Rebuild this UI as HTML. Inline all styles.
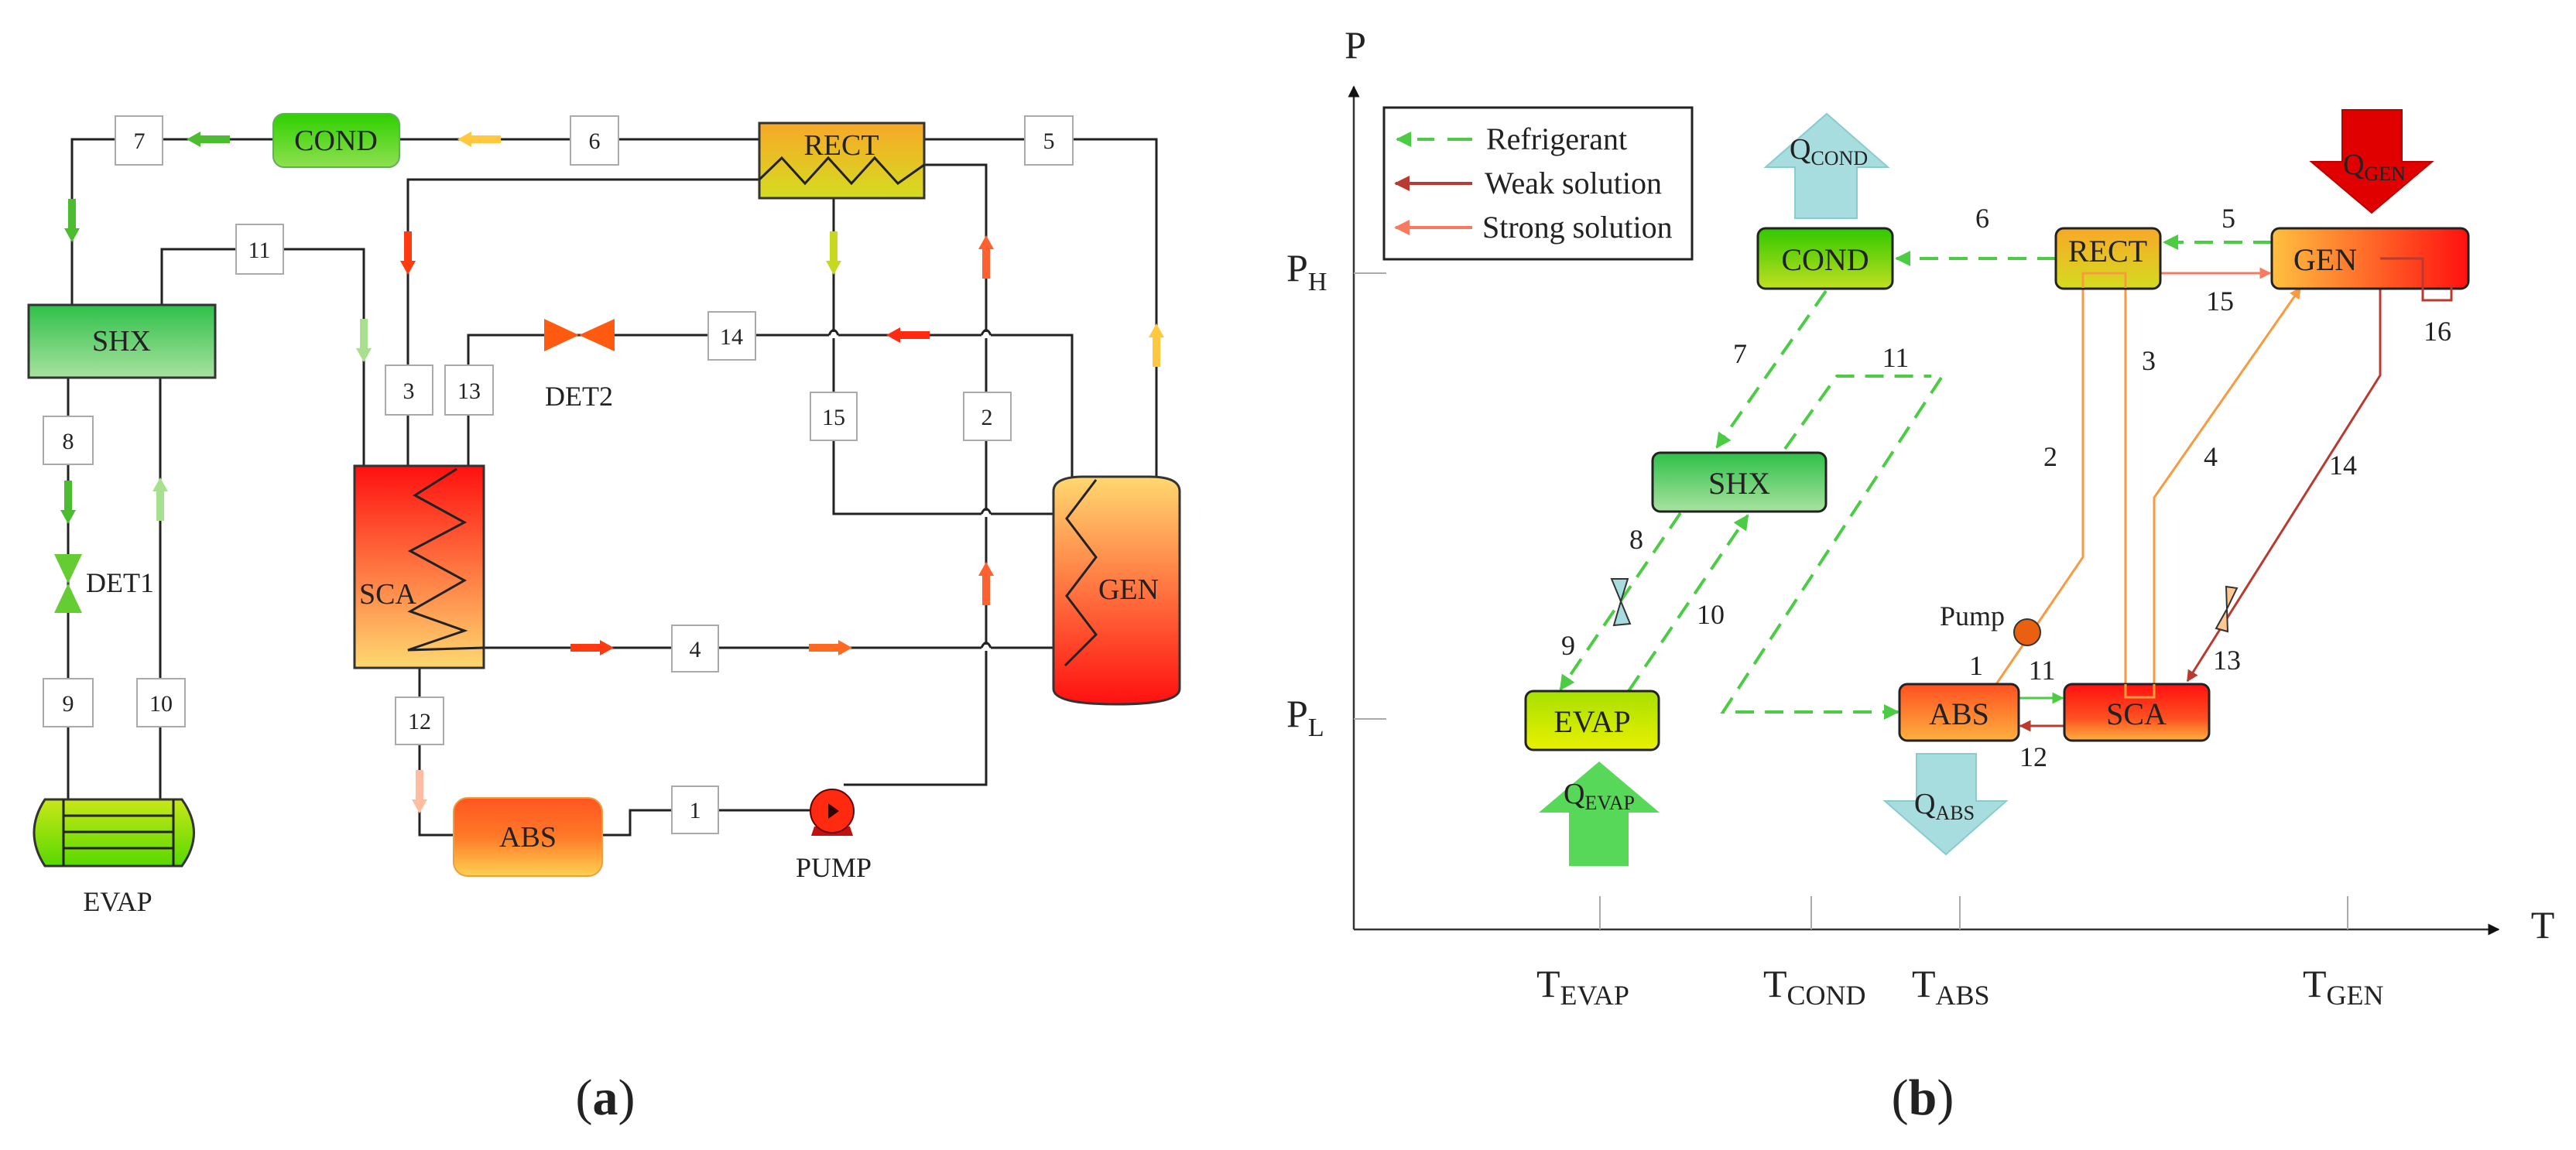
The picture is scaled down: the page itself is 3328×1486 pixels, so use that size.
<!DOCTYPE html>
<html><head><meta charset="utf-8"><style>
html,body{margin:0;padding:0;background:#fff}
svg{display:block}
text{font-family:"Liberation Serif",serif;fill:#222}
</style></head><body>
<svg width="3328" height="1486" viewBox="0 0 3328 1486" xmlns="http://www.w3.org/2000/svg">
<defs>
<linearGradient id="gCond" x1="0" y1="0" x2="0" y2="1"><stop offset="0" stop-color="#2fd000"/><stop offset="1" stop-color="#8fe050"/></linearGradient>
<linearGradient id="gRect" x1="0" y1="0" x2="0" y2="1"><stop offset="0" stop-color="#f8a828"/><stop offset="1" stop-color="#d4dc20"/></linearGradient>
<linearGradient id="gShx" x1="0" y1="0" x2="0" y2="1"><stop offset="0" stop-color="#2ec048"/><stop offset="1" stop-color="#a8e2a0"/></linearGradient>
<linearGradient id="gSca" x1="0" y1="0" x2="0" y2="1"><stop offset="0" stop-color="#ff1010"/><stop offset="1" stop-color="#ffd870"/></linearGradient>
<linearGradient id="gGen" x1="0" y1="0" x2="0" y2="1"><stop offset="0" stop-color="#ffd870"/><stop offset="1" stop-color="#ff1010"/></linearGradient>
<linearGradient id="gAbs" x1="0" y1="0" x2="0" y2="1"><stop offset="0" stop-color="#ff5520"/><stop offset="0.5" stop-color="#ff7a28"/><stop offset="1" stop-color="#ffd050"/></linearGradient>
<linearGradient id="gEvap" x1="0" y1="0" x2="0" y2="1"><stop offset="0" stop-color="#c8e818"/><stop offset="1" stop-color="#58d800"/></linearGradient>
<linearGradient id="gCond2" x1="0" y1="0" x2="0" y2="1"><stop offset="0" stop-color="#30c800"/><stop offset="1" stop-color="#c0e020"/></linearGradient>
<linearGradient id="gGen2" x1="0" y1="0" x2="1" y2="0"><stop offset="0" stop-color="#ffc040"/><stop offset="1" stop-color="#ff1010"/></linearGradient>
<linearGradient id="gEvap2" x1="0" y1="0" x2="0" y2="1"><stop offset="0" stop-color="#a8e000"/><stop offset="1" stop-color="#e8f000"/></linearGradient>
<linearGradient id="gSca2" x1="0" y1="0" x2="0" y2="1"><stop offset="0" stop-color="#ff1010"/><stop offset="0.6" stop-color="#ff5020"/><stop offset="1" stop-color="#ffb040"/></linearGradient>
<linearGradient id="gAbs2" x1="0" y1="0" x2="0" y2="1"><stop offset="0" stop-color="#ff5020"/><stop offset="1" stop-color="#ffb040"/></linearGradient>
<marker id="mG" viewBox="0 0 10 10" refX="9" refY="5" markerWidth="5" markerHeight="5" orient="auto"><path d="M0,0L10,5L0,10z" fill="#4ccc44"/></marker>
<marker id="mS" viewBox="0 0 10 10" refX="9" refY="5" markerWidth="5" markerHeight="5" orient="auto"><path d="M0,0L10,5L0,10z" fill="#f87a60"/></marker>
<marker id="mO" viewBox="0 0 10 10" refX="9" refY="5" markerWidth="5" markerHeight="5" orient="auto"><path d="M0,0L10,5L0,10z" fill="#f89a40"/></marker>
<marker id="mW" viewBox="0 0 10 10" refX="9" refY="5" markerWidth="5" markerHeight="5" orient="auto"><path d="M0,0L10,5L0,10z" fill="#b83a30"/></marker>
<marker id="mK" viewBox="0 0 10 10" refX="9" refY="5" markerWidth="6" markerHeight="6" orient="auto"><path d="M0,0L10,5L0,10z" fill="#111"/></marker>
<path id="arr" d="M-5,0 L5,0 L5,38 L10,38 L0,56 L-10,38 L-5,38 Z"/>
</defs>

<!-- ================= PANEL (a) ================= -->
<g stroke="#222" stroke-width="3" fill="none">
<path d="M93,441 V180 H353"/>
<path d="M516,180 H981"/>
<path d="M1194,180 H1494 V616"/>
<path d="M1194,213 H1274 V1014 H1090"/>
<path d="M981,232 H527 V602"/>
<path d="M209,394 V322 H470 V602"/>
<path d="M605,602 V433 H1385 V630"/>
<path d="M1077,256 V664 H1361"/>
<path d="M625,837 H1361"/>
<path d="M542,863 V1079 H586"/>
<path d="M778,1079 H814 V1047 H1046"/>
<path d="M88,488 V1033"/>
<path d="M207,488 V1033"/>
</g>
<g stroke="#fff" stroke-width="8"><path d="M1071,433H1083M1268,433H1280M1268,664H1280M1268,837H1280"/></g>
<g stroke="#222" stroke-width="3" fill="none">
<path d="M1071,433 Q1077,420 1083,433"/><path d="M1268,433 Q1274,420 1280,433"/>
<path d="M1268,664 Q1274,651 1280,664"/><path d="M1268,837 Q1274,824 1280,837"/>
</g>
<rect x="353" y="147" width="163" height="69" rx="14" fill="url(#gCond)" stroke="#6a6" stroke-width="2"/>
<text x="434" y="194" font-size="38" text-anchor="middle">COND</text>
<rect x="981" y="159" width="213" height="97" fill="url(#gRect)" stroke="#333" stroke-width="3"/>
<path d="M981,232 L1010,204 L1040,237 L1070,204 L1100,237 L1130,204 L1160,237 L1194,213" fill="none" stroke="#222" stroke-width="3"/>
<text x="1087" y="200" font-size="38" text-anchor="middle">RECT</text>
<rect x="37" y="394" width="241" height="94" fill="url(#gShx)" stroke="#333" stroke-width="3"/>
<text x="157" y="453" font-size="38" text-anchor="middle">SHX</text>
<rect x="458" y="602" width="167" height="261" fill="url(#gSca)" stroke="#333" stroke-width="3"/>
<path d="M590,606 L536,640 L600,675 L530,712 L600,750 L530,790 L600,815 L527,840 L625,837" fill="none" stroke="#222" stroke-width="3"/>
<text x="501" y="780" font-size="38" text-anchor="middle">SCA</text>
<path d="M1361,635 Q1361,616 1400,616 L1485,616 Q1524,616 1524,635 L1524,890 Q1524,910 1442,910 Q1361,910 1361,890 Z" fill="url(#gGen)" stroke="#333" stroke-width="3"/>
<path d="M1416,620 L1378,670 L1416,720 L1378,770 L1416,820 L1376,860" fill="none" stroke="#222" stroke-width="3"/>
<text x="1458" y="774" font-size="38" text-anchor="middle">GEN</text>
<rect x="586" y="1031" width="192" height="101" rx="18" fill="url(#gAbs)" stroke="#e8a040" stroke-width="2"/>
<text x="682" y="1094" font-size="38" text-anchor="middle">ABS</text>
<path d="M58,1033 L235,1033 Q266,1076 235,1119 L58,1119 Q30,1076 58,1033 Z" fill="url(#gEvap)" stroke="#333" stroke-width="3"/>
<g stroke="#222" stroke-width="3"><path d="M82,1033V1119M224,1033V1119M82,1054H224M82,1075H224M82,1096H224"/></g>
<text x="152" y="1177" font-size="36" text-anchor="middle">EVAP</text>
<path d="M70,716 L106,716 L88,754 Z M70,792 L106,792 L88,754 Z" fill="#66cc33"/>
<text x="111" y="765" font-size="36">DET1</text>
<path d="M703,412 L703,454 L748,433 Z M794,412 L794,454 L748,433 Z" fill="#ff5a10"/>
<text x="748" y="524" font-size="36" text-anchor="middle">DET2</text>
<path d="M1052,1068 L1098,1068 L1102,1080 L1048,1080 Z" fill="#c01010"/>
<circle cx="1075" cy="1048" r="28" fill="#ff2a10" stroke="#600" stroke-width="2"/>
<path d="M1070,1038 L1084,1048 L1070,1058 Z" fill="#300"/>
<text x="1077" y="1133" font-size="36" text-anchor="middle">PUMP</text>
<g fill="#fff" stroke="#aaa" stroke-width="2">
<rect x="149" y="150" width="61" height="63"/><rect x="737" y="150" width="62" height="63"/><rect x="1324" y="150" width="62" height="63"/>
<rect x="305" y="290" width="61" height="64"/>
<rect x="498" y="472" width="61" height="64"/><rect x="575" y="472" width="62" height="64"/>
<rect x="915" y="403" width="61" height="62"/>
<rect x="1047" y="507" width="60" height="62"/><rect x="1245" y="507" width="61" height="62"/>
<rect x="56" y="538" width="64" height="62"/>
<rect x="868" y="808" width="60" height="60"/>
<rect x="56" y="877" width="64" height="62"/><rect x="177" y="877" width="62" height="62"/>
<rect x="511" y="901" width="62" height="61"/>
<rect x="868" y="1016" width="60" height="61"/>
</g>
<g font-size="30" text-anchor="middle">
<text x="180" y="192">7</text><text x="768" y="192">6</text><text x="1355" y="192">5</text>
<text x="335" y="333">11</text><text x="528" y="515">3</text><text x="606" y="515">13</text>
<text x="945" y="445">14</text><text x="1077" y="549">15</text><text x="1275" y="549">2</text>
<text x="88" y="580">8</text><text x="898" y="849">4</text><text x="88" y="919">9</text><text x="208" y="919">10</text>
<text x="542" y="942">12</text><text x="898" y="1057">1</text>
</g>
<use href="#arr" transform="translate(93,257)" fill="#4cbc30"/>
<use href="#arr" transform="translate(297,180) rotate(90)" fill="#4cbc30"/>
<use href="#arr" transform="translate(647,180) rotate(90)" fill="#ffc840"/>
<use href="#arr" transform="translate(527,299)" fill="#ff3a10"/>
<use href="#arr" transform="translate(470,412)" fill="#a8e090"/>
<use href="#arr" transform="translate(1077,299)" fill="#c8d820"/>
<use href="#arr" transform="translate(1274,360) rotate(180)" fill="#ff6030"/>
<use href="#arr" transform="translate(1494,474) rotate(180)" fill="#ffc840"/>
<use href="#arr" transform="translate(1201,433) rotate(90)" fill="#ff2a10"/>
<use href="#arr" transform="translate(88,621)" fill="#4cbc30"/>
<use href="#arr" transform="translate(207,673) rotate(180)" fill="#a8e090"/>
<use href="#arr" transform="translate(737,837) rotate(-90)" fill="#ff3a10"/>
<use href="#arr" transform="translate(1045,837) rotate(-90)" fill="#ff6a20"/>
<use href="#arr" transform="translate(1274,782) rotate(180)" fill="#ff6030"/>
<use href="#arr" transform="translate(542,995)" fill="#ffbca0"/>
<text x="782" y="1440" font-size="66" text-anchor="middle" fill="#111">(<tspan font-weight="bold">a</tspan>)</text>

<!-- ================= PANEL (b) ================= -->
<g stroke="#333" stroke-width="2.5" fill="none">
<path d="M1749,1201 V112" marker-end="url(#mK)"/>
<path d="M1749,1201 H3228" marker-end="url(#mK)"/>
</g>
<g stroke="#aaa" stroke-width="2"><path d="M1749,353H1791M1749,929H1791M2067,1158V1201M2340,1158V1201M2532,1158V1201M3033,1158V1201"/></g>
<text x="1751" y="75" font-size="50" text-anchor="middle">P</text>
<text x="3285" y="1212" font-size="50" text-anchor="middle">T</text>
<text x="1662" y="363" font-size="50">P<tspan font-size="34" dy="12">H</tspan></text>
<text x="1662" y="939" font-size="50">P<tspan font-size="34" dy="12">L</tspan></text>
<g font-size="50"><text x="1985" y="1288">T<tspan font-size="36" dy="10">EVAP</tspan></text>
<text x="2278" y="1288">T<tspan font-size="36" dy="10">COND</tspan></text>
<text x="2470" y="1288">T<tspan font-size="36" dy="10">ABS</tspan></text>
<text x="2975" y="1288">T<tspan font-size="36" dy="10">GEN</tspan></text></g>
<rect x="1788" y="139" width="398" height="196" fill="#fff" stroke="#222" stroke-width="3"/>
<path d="M1853,180 H1805" stroke="#4ccc44" stroke-width="4" stroke-dasharray="22,14" marker-end="url(#mG)"/>
<path d="M1902,180 H1870" stroke="#4ccc44" stroke-width="4"/>
<path d="M1902,237 H1803" stroke="#b83a30" stroke-width="4" marker-end="url(#mW)"/>
<path d="M1902,294 H1803" stroke="#f87a60" stroke-width="4" marker-end="url(#mS)"/>
<g font-size="40"><text x="1920" y="193">Refrigerant</text><text x="1918" y="250">Weak solution</text><text x="1915" y="307">Strong solution</text></g>
<path d="M2319,282 V216 H2281 L2360,147 L2439,216 H2399 V282 Z" fill="#a8dde0" stroke="#8cc" stroke-width="2"/>
<text x="2312" y="205" font-size="38">Q<tspan font-size="26" dy="8">COND</tspan></text>
<path d="M3026,142 V209 H2986 L3064,275 L3142,209 H3103 V142 Z" fill="#e00000" stroke="#b00" stroke-width="2"/>
<text x="3027" y="225" font-size="38">Q<tspan font-size="26" dy="8">GEN</tspan></text>
<path d="M2027,1119 V1050 H1988 L2066,984 L2144,1050 H2104 V1119 Z" fill="#58d858"/>
<text x="2020" y="1038" font-size="38">Q<tspan font-size="26" dy="8">EVAP</tspan></text>
<path d="M2476,974 V1035 H2435 L2514,1104 L2592,1035 H2553 V974 Z" fill="#a8dde0" stroke="#8cc" stroke-width="2"/>
<text x="2473" y="1051" font-size="38">Q<tspan font-size="26" dy="8">ABS</tspan></text>
<g stroke="#4ccc44" stroke-width="4" fill="none" stroke-dasharray="24,14">
<path d="M2656,334 H2450" marker-end="url(#mG)"/>
<path d="M2935,313 H2796" marker-end="url(#mG)"/>
<path d="M2359,376 L2218,578" marker-end="url(#mG)"/>
<path d="M2306,580 L2373,486 H2495"/>
<path d="M2508,488 L2226,920 H2452" marker-end="url(#mG)"/>
<path d="M2171,663 L2016,891" marker-end="url(#mG)"/>
<path d="M2104,893 L2258,666" marker-end="url(#mG)"/>
</g>
<path d="M2791,353 H2933" stroke="#f87a60" stroke-width="3" fill="none" marker-end="url(#mS)"/>
<path d="M2579,884 L2691,720 V353 H2746 V901" stroke="#f89a40" stroke-width="3" fill="none"/>
<path d="M2783,901 V643 L2972,372" stroke="#f89a40" stroke-width="3" fill="none" marker-end="url(#mO)"/>
<path d="M3075,334 V485 L2826,880" stroke="#b83a30" stroke-width="3" fill="none" marker-end="url(#mW)"/>
<path d="M2608,902 H2665" stroke="#4ccc44" stroke-width="3" marker-end="url(#mG)"/>
<path d="M2667,938 H2610" stroke="#b83a30" stroke-width="3" marker-end="url(#mW)"/>
<g stroke="#222" stroke-width="3">
<rect x="2271" y="295" width="174" height="78" rx="10" fill="url(#gCond2)"/>
<rect x="2656" y="295" width="135" height="78" rx="10" fill="url(#gRect)"/>
<rect x="2935" y="295" width="254" height="78" rx="10" fill="url(#gGen2)"/>
<rect x="2135" y="585" width="224" height="76" rx="10" fill="url(#gShx)"/>
<rect x="1971" y="893" width="172" height="76" rx="10" fill="url(#gEvap2)"/>
<rect x="2454" y="884" width="154" height="73" rx="10" fill="url(#gAbs2)"/>
<rect x="2667" y="884" width="187" height="73" rx="10" fill="url(#gSca2)"/>
</g>
<path d="M2691,372 V353 H2746 V372" stroke="#f89a40" stroke-width="3" fill="none"/>
<path d="M2746,884 V901 H2783 V884" stroke="#f89a40" stroke-width="3" fill="none"/>
<path d="M3075,334 H3130 V388 H3167 V368" stroke="#b83a30" stroke-width="3" fill="none"/>
<g font-size="40" text-anchor="middle">
<text x="2358" y="349">COND</text><text x="2723" y="338">RECT</text><text x="3004" y="349">GEN</text>
<text x="2247" y="638">SHX</text><text x="2057" y="946">EVAP</text><text x="2531" y="936">ABS</text><text x="2760" y="936">SCA</text>
</g>
<path d="M2082,748 L2103,748 L2094,777 Z M2085,808 L2106,806 L2094,777 Z" fill="#a8dde0" stroke="#333" stroke-width="2"/>
<path d="M2876,758 L2890,760 L2877,787 Z M2863,812 L2878,816 L2877,787 Z" fill="#ffc890" stroke="#333" stroke-width="2"/>
<circle cx="2619" cy="817" r="17" fill="#e86010" stroke="#333" stroke-width="2"/>
<g font-size="36" text-anchor="middle">
<text x="2561" y="294">6</text><text x="2879" y="294">5</text><text x="2868" y="401">15</text><text x="3149" y="440">16</text>
<text x="2248" y="469">7</text><text x="2449" y="474">11</text><text x="2776" y="478">3</text><text x="2649" y="602">2</text>
<text x="2856" y="602">4</text><text x="3027" y="613">14</text><text x="2114" y="709">8</text><text x="2210" y="806">10</text>
<text x="2026" y="846">9</text><text x="2548" y="808">Pump</text><text x="2553" y="872">1</text><text x="2638" y="878">11</text>
<text x="2877" y="865">13</text><text x="2627" y="990">12</text>
</g>
<text x="2484" y="1440" font-size="66" text-anchor="middle" fill="#111">(<tspan font-weight="bold">b</tspan>)</text>
</svg>
</body></html>
